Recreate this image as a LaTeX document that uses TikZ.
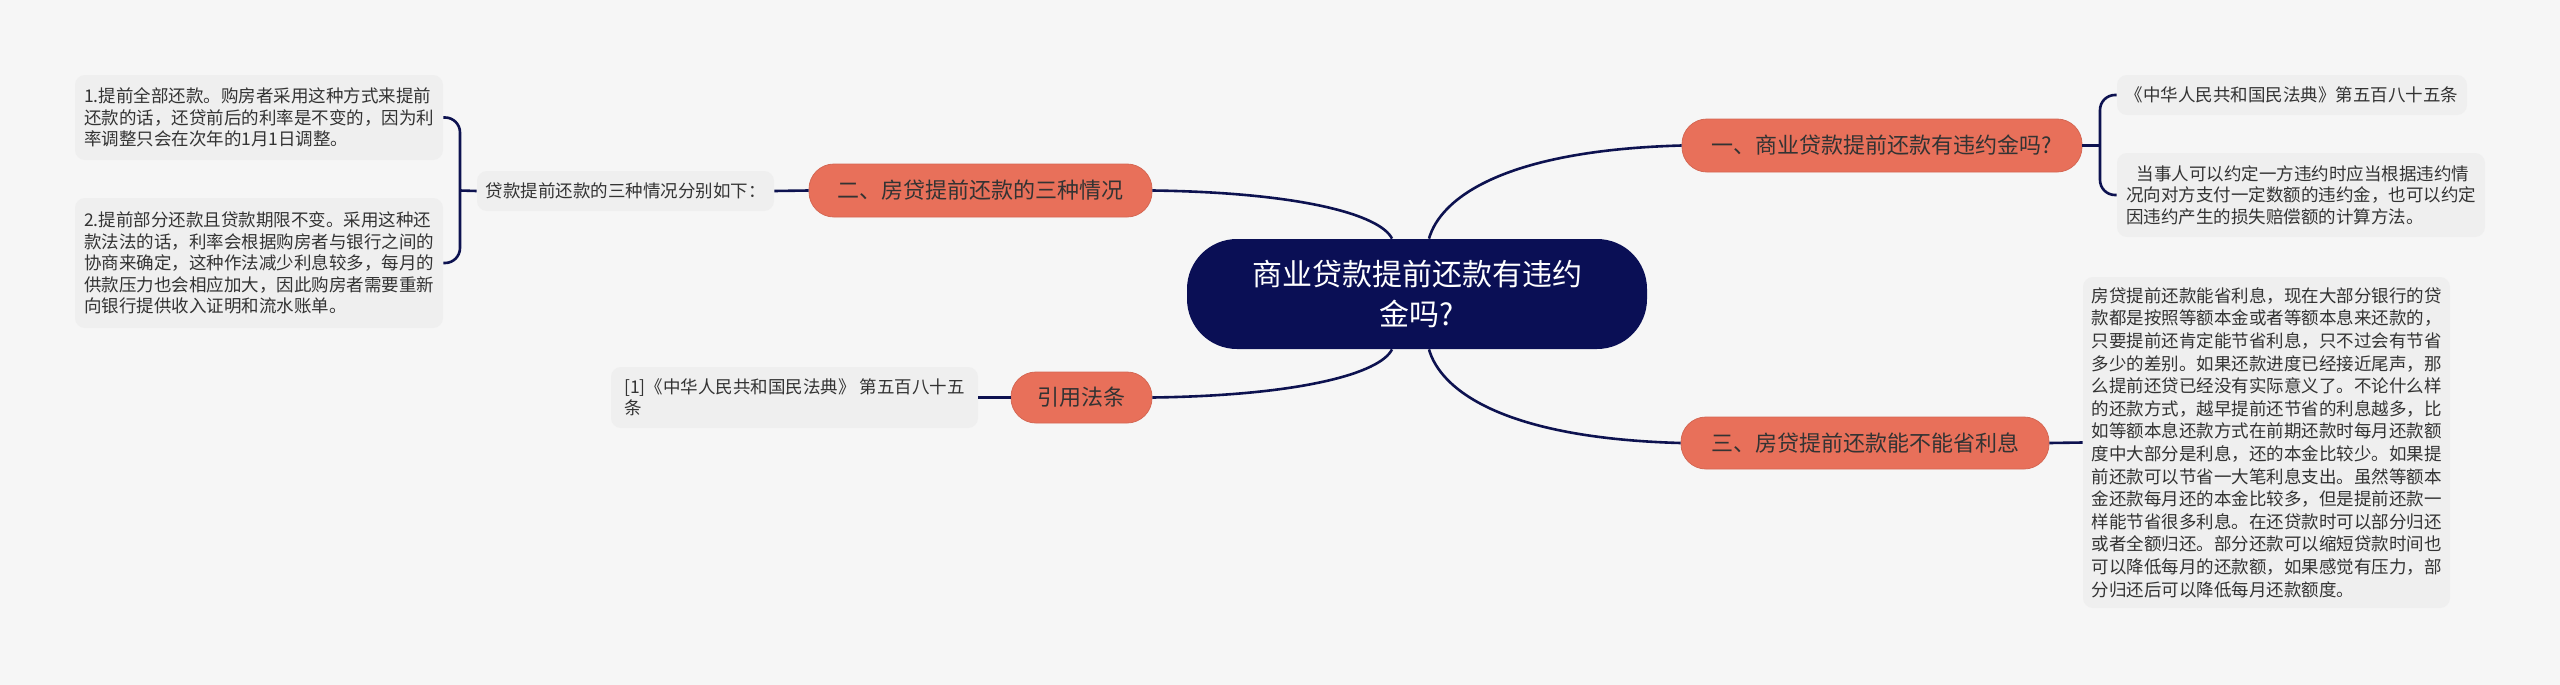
\documentclass[tikz,border=0pt]{standalone}
\usepackage{fontspec}
\setmainfont{Noto Sans CJK SC}
\definecolor{bggray}{HTML}{F6F6F6}
\definecolor{leafgray}{HTML}{EFEFEF}
\definecolor{hubblue}{HTML}{0A0F55}
\definecolor{branchred}{HTML}{E8705A}
\definecolor{linkblue}{HTML}{0D1250}
\definecolor{textgray}{HTML}{333333}
\begin{document}
\begin{tikzpicture}[x=0.5pt, y=-0.5pt,
    every node/.style={inner sep=0pt, text=textgray},
    hub/.style={fill=hubblue, text=white, rounded corners=25pt, align=center,
        font=\fontsize{15pt}{20pt}\selectfont},
    branch/.style={fill=branchred, draw=branchred!92!black, line width=0.4pt,
        rounded corners=12.5pt, font=\fontsize{11pt}{13pt}\selectfont},
    leaf/.style={fill=leafgray, rounded corners=5pt, align=left,
        font=\fontsize{8.75pt}{10.75pt}\selectfont},
    link/.style={draw=linkblue, line width=1.3pt}]
    % Canvas
    \fill[bggray] (0,0) rectangle (2560,685);
    \useasboundingbox (0,0) rectangle (2560,685);

    % Central topic
    \node[hub, minimum width=230pt, minimum height=55pt] (hub) at (1417,294) {商业贷款提前还款有违约\\金吗?};

    % Main branches
    \node[branch, minimum width=200pt, minimum height=26.5pt] (penalty) at (1882,145.5) {一、商业贷款提前还款有违约金吗?};
    \node[branch, minimum width=171.5pt, minimum height=26.5pt] (cases) at (980.5,190.5) {二、房贷提前还款的三种情况};
    \node[branch, minimum width=184pt, minimum height=26pt] (saving) at (1865,443) {三、房贷提前还款能不能省利息};
    \node[branch, minimum width=70.5pt, minimum height=25.5pt] (law) at (1081.5,397.5) {引用法条};

    % Leaves on the left
    \node[leaf, minimum width=184pt, minimum height=42.5pt] (full) at (259,117.5) {1.提前全部还款。购房者采用这种方式来提前\\还款的话，还贷前后的利率是不变的，因为利\\率调整只会在次年的1月1日调整。};
    \node[leaf, minimum width=184pt, minimum height=65pt] (part) at (259,263) {2.提前部分还款且贷款期限不变。采用这种还\\款法法的话，利率会根据购房者与银行之间的\\协商来确定，这种作法减少利息较多，每月的\\供款压力也会相应加大，因此购房者需要重新\\向银行提供收入证明和流水账单。};
    \node[leaf, minimum width=148.5pt, minimum height=20pt] (intro) at (625.5,191) {贷款提前还款的三种情况分别如下：};
    \node[leaf, minimum width=183.5pt, minimum height=30.5pt] (cite) at (794.5,397.5) {[1]《中华人民共和国民法典》 第五百八十五\\条};

    % Leaves on the right
    \node[leaf, minimum width=175pt, minimum height=20pt] (article) at (2292,95) {《中华人民共和国民法典》第五百八十五条};
    \node[leaf, minimum width=184pt, minimum height=42pt] (clause) at (2301,195) {\hspace*{0.6em}当事人可以约定一方违约时应当根据违约情\\况向对方支付一定数额的违约金，也可以约定\\因违约产生的损失赔偿额的计算方法。};
    \node[leaf, minimum width=183.5pt, minimum height=165.5pt, font=\fontsize{8.75pt}{11.3pt}\selectfont] (interest) at (2266.5,442.5) {房贷提前还款能省利息，现在大部分银行的贷\\款都是按照等额本金或者等额本息来还款的，\\只要提前还肯定能节省利息，只不过会有节省\\多少的差别。如果还款进度已经接近尾声，那\\么提前还贷已经没有实际意义了。不论什么样\\的还款方式，越早提前还节省的利息越多，比\\如等额本息还款方式在前期还款时每月还款额\\度中大部分是利息，还的本金比较少。如果提\\前还款可以节省一大笔利息支出。虽然等额本\\金还款每月还的本金比较多，但是提前还款一\\样能节省很多利息。在还贷款时可以部分归还\\或者全额归还。部分还款可以缩短贷款时间也\\可以降低每月的还款额，如果感觉有压力，部\\分归还后可以降低每月还款额度。};

    % Curves from the centre
    \draw[link] ([xshift=6pt]hub.north) .. controls +(11,-39) and +(-181,5) .. (penalty.west);
    \draw[link] ([xshift=-12.5pt]hub.north) .. controls +(-12,-24) and +(148,2) .. (cases.east);
    \draw[link] ([xshift=6pt]hub.south) .. controls +(11,39) and +(-181,-5) .. (saving.west);
    \draw[link] ([xshift=-12.5pt]hub.south) .. controls +(-12,24) and +(148,-2) .. (law.east);

    % Brackets and short links
    \coordinate (rjoin) at (2100,145.5);
    \coordinate (ljoin) at (460,190.5);
    \draw[link] (penalty.east) -- (rjoin);
    \draw[link, rounded corners=7.5pt] (article.west) -| (rjoin) |- (clause.west);
    \draw[link] (intro.west) -- (ljoin);
    \draw[link, rounded corners=7.5pt] (full.east) -| (ljoin) |- (part.east);
    \draw[link] (intro.east) -- (cases.west);
    \draw[link] (cite.east) -- (law.west);
    \draw[link] (saving.east) -- (interest.west);
\end{tikzpicture}
\end{document}
